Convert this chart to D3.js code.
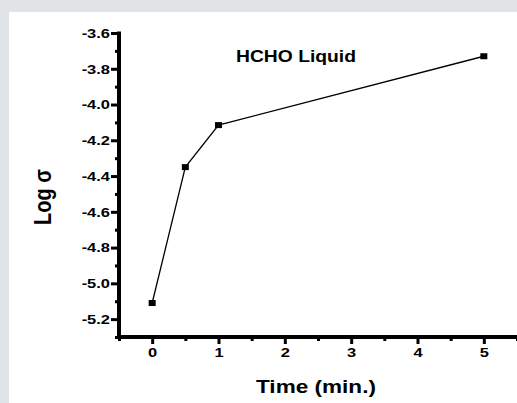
<!DOCTYPE html>
<html>
<head>
<meta charset="utf-8">
<script src="https://cdn.jsdelivr.net/npm/d3@7"></script>
<style>
  body { margin: 0; background: #e1e4e6; }
  svg { display: block; }
  text { font-family: "Liberation Sans", Arial, sans-serif; font-weight: bold; fill: #000; }
</style>
</head>
<body>
<div id="chart"></div>
<script>
// data
var times = [0, 0.5, 1, 5];
var logSigma = [-5.11, -4.35, -4.115, -3.73];
var xTicks = [0, 1, 2, 3, 4, 5];
var xMinor = [-0.5, 0.5, 1.5, 2.5, 3.5, 4.5, 5.5];
var yTicks = [-5.2, -5.0, -4.8, -4.6, -4.4, -4.2, -4.0, -3.8, -3.6];
var yMinor = [-5.3, -5.1, -4.9, -4.7, -4.5, -4.3, -4.1, -3.9, -3.7];

var svgWidth = 517, svgHeight = 403;

var svg = d3.select("#chart").append("svg")
  .attr("width", svgWidth)
  .attr("height", svgHeight);

// white panel
svg.append("rect")
  .attr("x", 9).attr("y", 12)
  .attr("width", svgWidth - 9).attr("height", svgHeight - 12)
  .attr("fill", "#fff");

var xScale = d3.scaleLinear().domain([-0.5, 5.5]).range([119, 517]);
var yScale = d3.scaleLinear().domain([-5.3, -3.6]).range([337, 33]);

// widen glyphs sideways like the source picture
function widen(sel, k) {
  sel.each(function () {
    var t = d3.select(this);
    var x = +t.attr("x") || 0, y = +t.attr("y") || 0;
    t.attr("x", 0).attr("y", 0)
      .attr("transform", `translate(${x}, ${y}) scale(${k}, 1)`);
  });
}

// minor ticks
svg.append("g")
  .attr("transform", `translate(0, ${yScale(-5.3)})`)
  .call(d3.axisBottom(xScale).tickValues(xMinor).tickSize(4).tickSizeOuter(0).tickFormat(""))
  .call(g => g.select(".domain").remove())
  .selectAll("line").attr("stroke-width", 3);

svg.append("g")
  .attr("transform", `translate(${xScale(-0.5)}, 0)`)
  .call(d3.axisLeft(yScale).tickValues(yMinor).tickSize(4).tickSizeOuter(0).tickFormat(""))
  .call(g => g.select(".domain").remove())
  .selectAll("line").attr("stroke-width", 3);

// x axis
var xAxis = svg.append("g")
  .attr("transform", `translate(0, ${yScale(-5.3)})`)
  .call(d3.axisBottom(xScale).tickValues(xTicks).tickSize(7).tickSizeOuter(0).tickPadding(3).tickFormat(d => d));
xAxis.select(".domain").attr("stroke-width", 4).attr("d", `M${xScale(-0.5) - 2},0H${xScale(5.5)}`);
xAxis.selectAll("line").attr("stroke-width", 3);
xAxis.selectAll("text").style("font-size", "13.5px").style("font-family", "Liberation Sans, Arial, sans-serif").style("font-weight", "bold").call(widen, 1.22);

// y axis
var yAxis = svg.append("g")
  .attr("transform", `translate(${xScale(-0.5)}, 0)`)
  .call(d3.axisLeft(yScale).tickValues(yTicks).tickSize(8).tickSizeOuter(0).tickPadding(1).tickFormat(d => d.toFixed(1)));
yAxis.select(".domain").attr("stroke-width", 4).attr("d", `M0,${yScale(-3.6) - 1.5}V${yScale(-5.3) + 2}`);
yAxis.selectAll("line").attr("stroke-width", 3);
yAxis.selectAll("text").style("font-size", "13.5px").style("font-family", "Liberation Sans, Arial, sans-serif").style("font-weight", "bold").call(widen, 1.22);

// data line and points
var pts = times.map((t, i) => [t, logSigma[i]]);
svg.append("path")
  .datum(pts)
  .attr("fill", "none")
  .attr("stroke", "#000")
  .attr("stroke-width", 1.3)
  .attr("d", d3.line().x(d => xScale(d[0])).y(d => yScale(d[1])));

svg.selectAll("rect.pt")
  .data(pts)
  .enter()
  .append("rect")
  .attr("class", "pt")
  .attr("x", d => xScale(d[0]) - 3.5)
  .attr("y", d => yScale(d[1]) - 3)
  .attr("width", 7)
  .attr("height", 6)
  .attr("fill", "#000");

// labels
svg.append("text")
  .attr("x", 236).attr("y", 61.5)
  .style("font-size", "16.5px")
  .text("HCHO Liquid")
  .call(widen, 1.17);

svg.append("text")
  .attr("x", 256).attr("y", 393)
  .style("font-size", "18.5px")
  .text("Time (min.)")
  .call(widen, 1.22);

svg.append("text")
  .attr("transform", "translate(51, 197) scale(1.22, 1) rotate(-90)")
  .attr("text-anchor", "middle")
  .style("font-size", "20px")
  .text("Log σ");
</script>
</body>
</html>
